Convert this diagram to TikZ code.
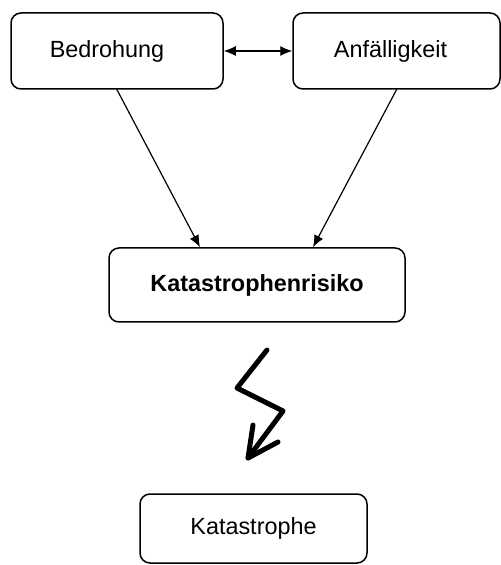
\documentclass[tikz,border=0pt]{standalone}
\usepackage{fontspec}
\setmainfont{Liberation Sans}
\usetikzlibrary{arrows.meta}
\begin{document}
\begin{tikzpicture}[line join=round, line cap=round, >={Latex[length=6pt,width=5pt]}, x=0.5pt, y=-0.5pt]
			\tikzset{box style/.style={draw, line width=0.75pt, rounded corners=5pt, font=\fontsize{11.7}{14}\selectfont}}
			\useasboundingbox (0,0) rectangle (501,565);
			\node[box style, minimum width=106pt, minimum height=38pt] (bed) at (117,51) {\hspace*{-10pt}Bedrohung};
			\node[box style, minimum width=103.5pt, minimum height=38pt] (anf) at (396.5,51) {\hspace*{-6pt}Anfälligkeit};
			\node[box style, minimum width=148pt, minimum height=37pt, font=\fontsize{11.7}{14}\selectfont\bfseries] (risk) at (257,285) {Katastrophenrisiko};
			\node[box style, minimum width=113.5pt, minimum height=34.5pt] (kat) at (253.5,528.5) {Katastrophe};
			\draw[<->, line width=0.6pt] (bed.east) -- (anf.west);
			\draw[->, line width=0.6pt] (bed.south) -- ([xshift=-28.5pt]risk.north);
			\draw[->, line width=0.6pt] (anf.south) -- ([xshift=28pt]risk.north);
			% Blitz
			\draw[line width=2.5pt] (267,350) -- (237,388) -- (283,411) -- (248,458);
			\draw[line width=2.5pt] (253,425) -- (248,458) -- (278,442);
\end{tikzpicture}
\end{document}
